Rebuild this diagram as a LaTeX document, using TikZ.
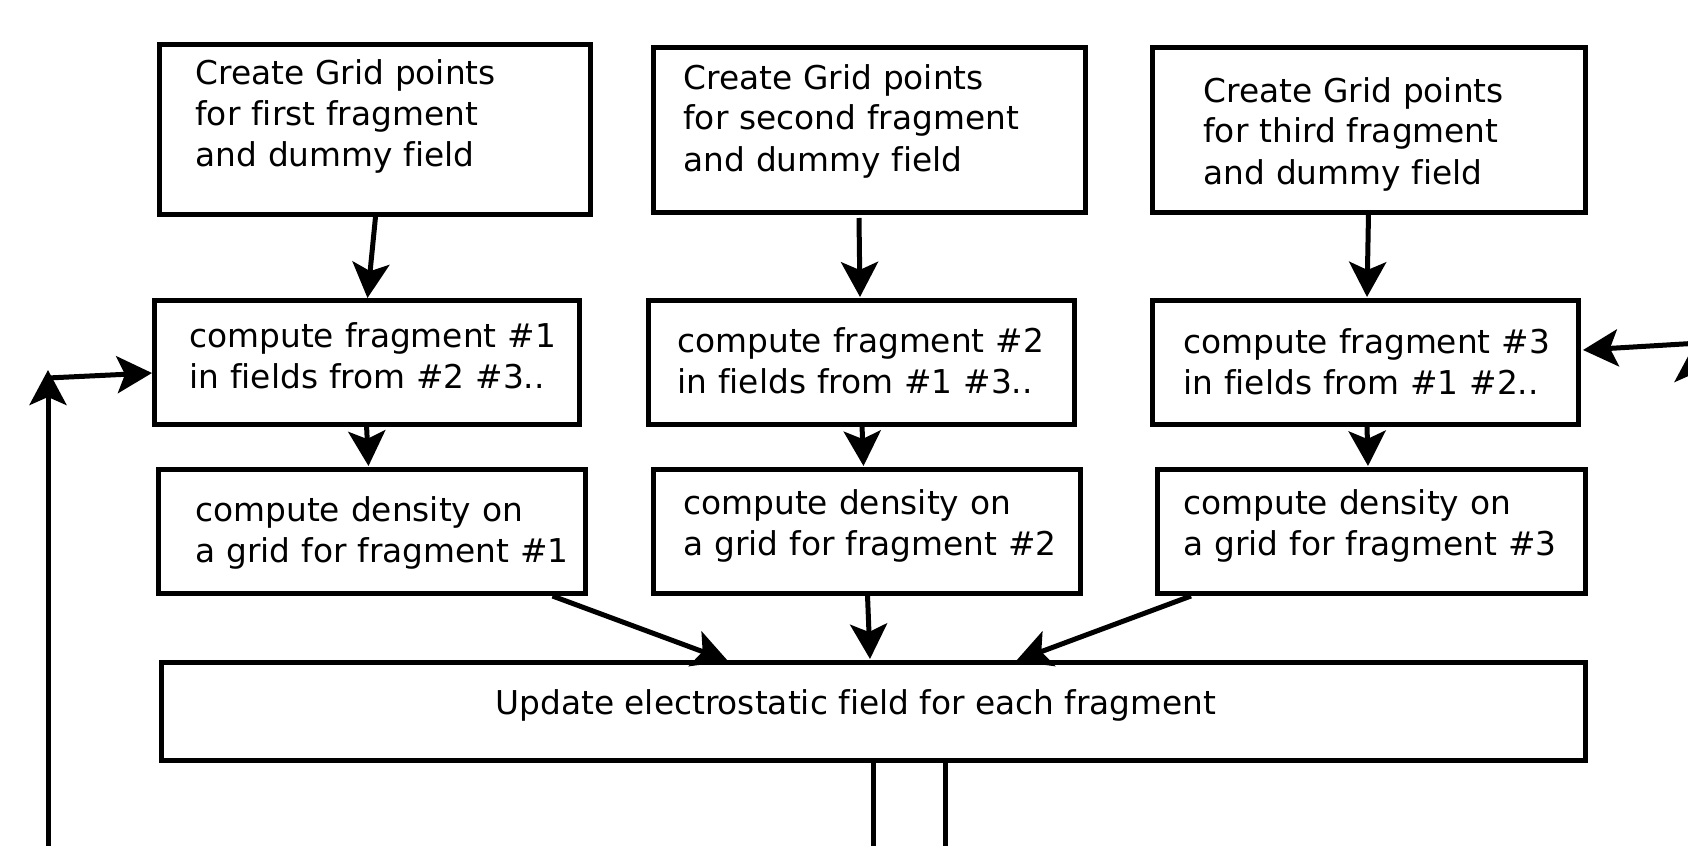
\documentclass[tikz,border=0pt]{standalone}
\usepackage{fontspec}
\setmainfont[Ligatures=NoCommon]{DejaVu Sans}
\usetikzlibrary{arrows.meta,calc}
\begin{document}
\begin{tikzpicture}[x=0.5pt,y=-0.5pt,
  box/.style 2 args={draw,line width=2.5pt,inner sep=0pt,outer sep=0pt,anchor=north west,
    minimum width={#1*0.5pt},minimum height={#2*0.5pt}},
  txt/.style={font=\fontsize{16.4}{20.5}\selectfont,inner sep=0pt,anchor=base west,text width=220pt,align=left},
  ctxt/.style={font=\fontsize{16.4}{20.5}\selectfont,inner sep=0pt,anchor=base},
  arr/.style={line width=2.5pt,-{Stealth[length=17.5pt,width=18.5pt,inset=4pt]}},
  ln/.style={line width=2.5pt}]
\useasboundingbox (0,0) rectangle (1688,846);
% boxes
\node[box={431}{170}] (a1) at (159,44) {};
\node[box={432}{165}] (a2) at (653,47) {};
\node[box={433}{165}] (a3) at (1152,47) {};
\node[box={425}{124}] (b1) at (154,300) {};
\node[box={426}{124}] (b2) at (648,300) {};
\node[box={426}{124}] (b3) at (1152,300) {};
\node[box={427}{124}] (c1) at (158,469) {};
\node[box={427}{124}] (c2) at (653,469) {};
\node[box={428}{124}] (c3) at (1157,469) {};
\node[box={1424}{98}] (d) at (161,662) {};
% texts
\node[txt] (ta1) at (195,84) {Create Grid points\\for first fragment\\and dummy field};
\node[txt] (ta2) at (683,89) {Create Grid points\\for second fragment\\and dummy field};
\node[txt] (ta3) at (1203,102) {Create Grid points\\for third fragment\\and dummy field};
\node[txt] (tb1) at (189,347) {compute fragment \#1\\in fields from \#2 \#3..};
\node[txt] (tb2) at (677,352) {compute fragment \#2\\in fields from \#1 \#3..};
\node[txt] (tb3) at (1183,353) {compute fragment \#3\\in fields from \#1 \#2..};
\node[txt] (tc1) at (195,521) {compute density on\\a grid for fragment \#1};
\node[txt] (tc2) at (683,514) {compute density on\\a grid for fragment \#2};
\node[txt] (tc3) at (1183,514) {compute density on\\a grid for fragment \#3};
\node[ctxt] (td) at (856,714) {Update electrostatic field for each fragment};
% connectors
\draw[arr] ($(a1.south)+(1,3)$) -- ($(b1.north)+(1,-2)$);
\draw[arr] ($(a2.south)+(-10,6)$) -- ($(b2.north)+(-1,-3)$);
\draw[arr] ($(a3.south)+(0,2)$) -- ($(b3.north)+(2,-3)$);
\draw[arr] ($(b1.south)+(0,1)$) -- ($(c1.north)+(-3,-3)$);
\draw[arr] ($(b2.south)+(1,1)$) -- ($(c2.north)+(-3,-3)$);
\draw[arr] ($(b3.south)+(2,1)$) -- ($(c3.north)+(-3,-3)$);
\draw[arr] ($(c1.south)+(181,3)$) -- ($(d.north)+(-145,-1)$);
\draw[arr] ($(c2.south)+(1,2)$) -- ($(d.north)+(-3,-3)$);
\draw[arr] ($(c3.south)+(-180,3)$) -- ($(d.north)+(143,-1)$);
% bottom lines
\coordinate (db1) at (873,846);
\coordinate (db2) at (945,846);
\draw[ln] (d.south) -- (db1);
\draw[ln] ($(d.south)+(72,0)$) -- (db2);
% loop on the left
\coordinate (lb) at (48,846);
\coordinate (lt) at (48,370);
\coordinate (lh) at (48,378);
\draw[arr] (lb) -- (lt);
\draw[arr] (lh) -- ($(b1.west)+(-2,11)$);
% loop on the right
\coordinate (rb) at (1693,846);
\coordinate (rt) at (1693,347);
\coordinate (rh) at (1700,343);
\draw[arr] (rb) -- (rt);
\draw[arr] (rh) -- ($(b3.east)+(5,-12)$);
\end{tikzpicture}
\end{document}
